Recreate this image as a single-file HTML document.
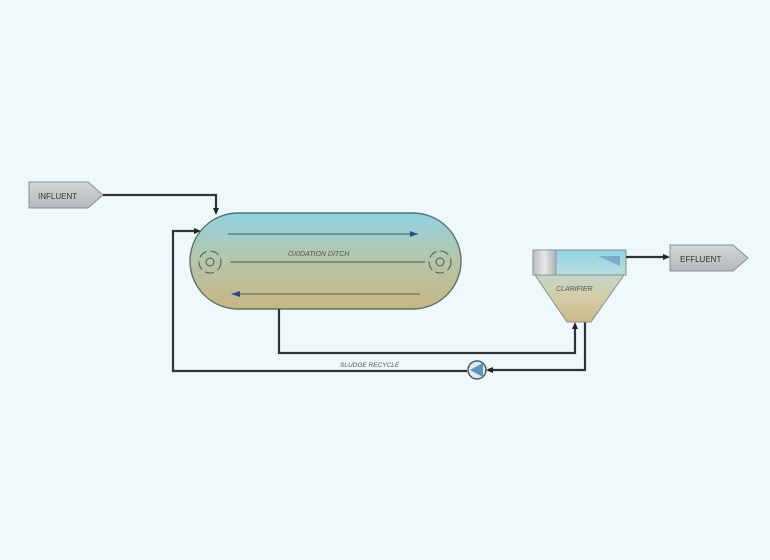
<!DOCTYPE html>
<html><head><meta charset="utf-8"><style>
html,body{margin:0;padding:0;background:#eef9fb;}
svg{display:block}
text{font-family:"Liberation Sans",sans-serif;}
</style></head><body>
<svg width="770" height="560" viewBox="0 0 770 560" xmlns="http://www.w3.org/2000/svg">
<defs>
<linearGradient id="dg" x1="0" y1="0" x2="0" y2="1">
<stop offset="0" stop-color="#8fd3e3"/><stop offset="0.45" stop-color="#b3c7ad"/><stop offset="1" stop-color="#c7b582"/>
</linearGradient>
<linearGradient id="cg" x1="0" y1="0" x2="0" y2="1">
<stop offset="0" stop-color="#c5d5c8"/><stop offset="0.5" stop-color="#d3cda6"/><stop offset="1" stop-color="#cbb985"/>
</linearGradient>
<linearGradient id="tg" x1="0" y1="0" x2="0" y2="1">
<stop offset="0" stop-color="#8fd3e3"/><stop offset="1" stop-color="#b9dfe0"/>
</linearGradient>
<linearGradient id="gg" x1="0" y1="0" x2="1" y2="0">
<stop offset="0" stop-color="#b8bcbe"/><stop offset="0.5" stop-color="#e6e8e8"/><stop offset="1" stop-color="#aeb2b4"/>
</linearGradient>
<linearGradient id="bx" x1="0" y1="0" x2="0" y2="1">
<stop offset="0" stop-color="#d4d6d7"/><stop offset="1" stop-color="#b5b8ba"/>
</linearGradient>
</defs>
<rect width="770" height="560" fill="#eef9fb"/>
<polygon points="29,182 88,182 103,195 88,208 29,208" fill="url(#bx)" stroke="#8a8d90" stroke-width="1"/>
<text x="38" y="199" font-size="8" fill="#333">INFLUENT</text>
<polyline points="103,195 216,195 216,212" fill="none" stroke="#333" stroke-width="2.2"/>
<polygon points="213,208 216,215 219,208" fill="#222"/>
<rect x="190" y="213" width="271" height="96" rx="48" fill="url(#dg)" stroke="#5f6f68" stroke-width="1.4"/>
<line x1="228" y1="234" x2="418" y2="234" stroke="#3d5a66" stroke-width="1"/>
<polygon points="410,231 418,234 410,237" fill="#2a4a8a"/>
<line x1="230" y1="262" x2="425" y2="262" stroke="#4a5a55" stroke-width="1"/>
<line x1="232" y1="294" x2="420" y2="294" stroke="#5a6050" stroke-width="1"/>
<polygon points="240,291 231,294 240,297" fill="#2a4a8a"/>
<text x="288" y="256" font-size="7" font-style="italic" fill="#555">OXIDATION DITCH</text>
<g fill="none" stroke="#555" stroke-width="1">
<circle cx="210" cy="262" r="11" stroke-dasharray="9 4"/><circle cx="210" cy="262" r="4"/>
<circle cx="440" cy="262" r="11" stroke-dasharray="9 4"/><circle cx="440" cy="262" r="4"/>
</g>
<polyline points="197,231 173,231 173,371 467,371" fill="none" stroke="#333" stroke-width="2.2"/>
<polygon points="194,228 201,231 194,234" fill="#222"/>
<polyline points="279,309 279,353 575,353 575,326" fill="none" stroke="#333" stroke-width="2.2"/>
<polygon points="572,329 575,322 578,329" fill="#222"/>
<polyline points="585,322 585,370 488,370" fill="none" stroke="#333" stroke-width="2.2"/>
<polygon points="493,367 486,370 493,373" fill="#222"/>
<text x="340" y="367" font-size="6.5" font-style="italic" fill="#555">SLUDGE RECYCLE</text>
<circle cx="477" cy="370" r="9" fill="#dfe8ec" stroke="#555" stroke-width="1.5"/>
<polygon points="470,370 483,363 483,377" fill="#5b93c2"/>
<polygon points="535,275 624,275 591,322 567,322" fill="url(#cg)" stroke="#8a8d90" stroke-width="1"/>
<rect x="533" y="250" width="93" height="25" fill="url(#tg)" stroke="#8a8d90" stroke-width="1"/>
<rect x="533" y="250" width="23" height="25" fill="url(#gg)" stroke="#8a8d90" stroke-width="0.8"/>
<polygon points="598,256 620,256 620,266" fill="#7fa9c8"/>
<text x="556" y="291" font-size="7" font-style="italic" fill="#555">CLARIFIER</text>
<polyline points="626,257 668,257" fill="none" stroke="#333" stroke-width="2.2"/>
<polygon points="663,254 670,257 663,260" fill="#222"/>
<polygon points="670,245 733,245 748,258 733,271 670,271" fill="url(#bx)" stroke="#8a8d90" stroke-width="1"/>
<text x="680" y="262" font-size="8" fill="#333">EFFLUENT</text>
</svg>
</body></html>
